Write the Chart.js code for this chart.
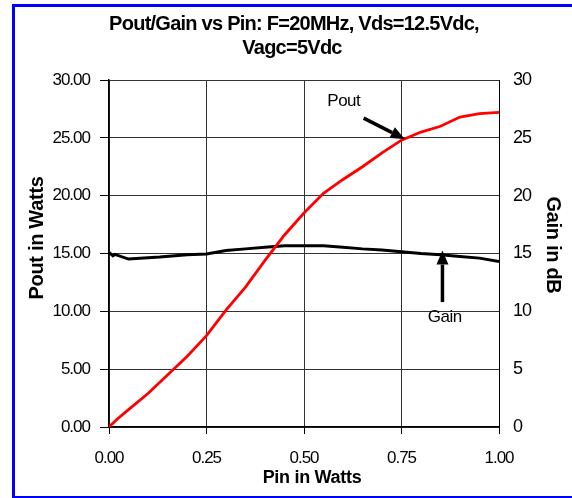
<!DOCTYPE html>
<html>
<head>
<meta charset="utf-8">
<script src="https://cdn.jsdelivr.net/npm/chart.js@4.4.1/dist/chart.umd.min.js"></script>
<style>
  html, body { margin: 0; padding: 0; background: #fff; }
  #wrap { position: relative; width: 572px; height: 498px; overflow: hidden; }
  #frame { position: absolute; left: 12px; top: 4px; width: 620px; height: 489px; border: 3px solid #0000ff; pointer-events: none; }
</style>
</head>
<body>
<div id="wrap">
  <canvas id="myChart" width="572" height="498"></canvas>
  <div id="frame"></div>
</div>
<script>
// Pout curve (W) against Pin (W)
const pinPout = [0, 0.02, 0.05, 0.10, 0.15, 0.20, 0.25, 0.30, 0.35, 0.40, 0.45, 0.50, 0.55, 0.60, 0.65, 0.70, 0.75, 0.80, 0.85, 0.90, 0.95, 1.00];
const pout    = [0, 0.65, 1.5, 2.9, 4.5, 6.1, 7.9, 10.1, 12.1, 14.4, 16.6, 18.5, 20.2, 21.4, 22.5, 23.7, 24.8, 25.5, 26.0, 26.8, 27.1, 27.2];

// Gain curve (dB) against Pin (W)
const pinGain = [0, 0.01, 0.015, 0.05, 0.13, 0.20, 0.25, 0.30, 0.35, 0.40, 0.45, 0.50, 0.55, 0.60, 0.65, 0.70, 0.75, 0.80, 0.85, 0.90, 0.95, 1.00];
const gain    = [15.1, 14.8, 14.93, 14.52, 14.69, 14.9, 14.95, 15.26, 15.4, 15.55, 15.67, 15.67, 15.67, 15.55, 15.4, 15.3, 15.15, 15.0, 14.9, 14.75, 14.6, 14.3];

const xTicks = [0, 0.25, 0.5, 0.75, 1.0];
const titleLines = ["Pout/Gain vs Pin: F=20MHz, Vds=12.5Vdc,", "Vagc=5Vdc"];

// callouts, in data units [Pin, left-axis value]
const poutLabel = [0.602, 28.2];
const poutArrow = [[0.653, 26.7], [0.758, 24.9]];
const gainLabel = [0.861, 9.5];
const gainArrow = [[0.855, 10.8], [0.855, 15.25]];

const FONT = "'Liberation Sans', Arial, sans-serif";
Chart.defaults.font.family = FONT;
Chart.defaults.color = "#000";

function arrow(ctx, x0, y0, x1, y1, len, half) {
  const a = Math.atan2(y1 - y0, x1 - x0);
  const c = Math.cos(a), s = Math.sin(a);
  ctx.beginPath();
  ctx.moveTo(x0, y0);
  ctx.lineTo(x1 - len * c, y1 - len * s);
  ctx.stroke();
  ctx.beginPath();
  ctx.moveTo(x1, y1);
  ctx.lineTo(x1 - len * c - half * s, y1 - len * s + half * c);
  ctx.lineTo(x1 - len * c + half * s, y1 - len * s - half * c);
  ctx.closePath();
  ctx.fill();
}

const decor = {
  id: "decor",
  beforeUpdate(chart) { chart.ctx.letterSpacing = "-1px"; },
  beforeDraw(chart) { chart.ctx.letterSpacing = "-1px"; },
  afterDraw(chart) {
    const ctx = chart.ctx;
    const sx = chart.scales.x, sy = chart.scales.y;
    const px = p => [sx.getPixelForValue(p[0]), sy.getPixelForValue(p[1])];
    ctx.save();
    ctx.fillStyle = "#000";
    ctx.strokeStyle = "#000";
    ctx.textAlign = "center";
    ctx.textBaseline = "middle";

    ctx.letterSpacing = "-0.75px";
    ctx.font = "bold 20px " + FONT;
    ctx.fillText(titleLines[0], 294, 24);
    ctx.fillText(titleLines[1], 292, 48);

    ctx.letterSpacing = "-0.3px";
    ctx.font = "bold 18px " + FONT;
    ctx.fillText("Pin in Watts", 312, 478);
    ctx.font = "bold 20px " + FONT;
    ctx.save();
    ctx.translate(37, 238);
    ctx.rotate(-Math.PI / 2);
    ctx.fillText("Pout in Watts", 0, 0);
    ctx.restore();
    ctx.save();
    ctx.translate(553, 245);
    ctx.rotate(Math.PI / 2);
    ctx.fillText("Gain in dB", 0, 0);
    ctx.restore();

    ctx.letterSpacing = "-0.5px";
    ctx.font = "17px " + FONT;
    let p = px(poutLabel);
    ctx.fillText("Pout", p[0], p[1]);
    p = px(gainLabel);
    ctx.fillText("Gain", p[0], p[1]);

    ctx.lineWidth = 3.5;
    let a = px(poutArrow[0]), b = px(poutArrow[1]);
    arrow(ctx, a[0], a[1], b[0], b[1], 14, 6);
    a = px(gainArrow[0]); b = px(gainArrow[1]);
    arrow(ctx, a[0], a[1], b[0], b[1], 14, 6);
    ctx.restore();
  }
};

new Chart(document.getElementById("myChart"), {
  type: "line",
  data: {
    datasets: [
      {
        label: "Pout",
        data: pinPout.map((v, i) => ({ x: v, y: pout[i] })),
        borderColor: "#ff0000",
        borderWidth: 2.8,
        pointRadius: 0,
        tension: 0,
        yAxisID: "y"
      },
      {
        label: "Gain",
        data: pinGain.map((v, i) => ({ x: v, y: gain[i] })),
        borderColor: "#000000",
        borderWidth: 3,
        pointRadius: 0,
        tension: 0,
        yAxisID: "y1"
      }
    ]
  },
  options: {
    responsive: false,
    animation: false,
    devicePixelRatio: 1,
    layout: { padding: { top: 80, left: 0, right: 0, bottom: 0 } },
    plugins: { legend: { display: false }, tooltip: { enabled: false }, title: { display: false } },
    scales: {
      x: {
        type: "linear",
        min: 0,
        max: 1,
        afterBuildTicks: s => { s.ticks = xTicks.map(v => ({ value: v })); },
        afterFit: s => { s.height = 71; },
        grid: { color: "#333", lineWidth: 1, tickLength: 7, tickColor: "#000" },
        border: { color: "#000", width: 1.5 },
        ticks: { font: { size: 17 }, padding: 14, maxRotation: 0, callback: v => Number(v).toFixed(2) }
      },
      y: {
        position: "left",
        min: 0,
        max: 30,
        afterFit: s => { s.width = 109; },
        grid: { color: "#333", lineWidth: 1, tickLength: 9, tickColor: "#000" },
        border: { color: "#000", width: 1.5 },
        ticks: { stepSize: 5, font: { size: 17 }, padding: 10, callback: v => Number(v).toFixed(2) }
      },
      y1: {
        position: "right",
        min: 0,
        max: 30,
        afterFit: s => { s.width = 73; },
        grid: { display: false, drawTicks: false },
        border: { color: "#000", width: 1 },
        ticks: { stepSize: 5, font: { size: 18 }, padding: 14 }
      }
    }
  },
  plugins: [decor]
});
</script>
</body>
</html>
